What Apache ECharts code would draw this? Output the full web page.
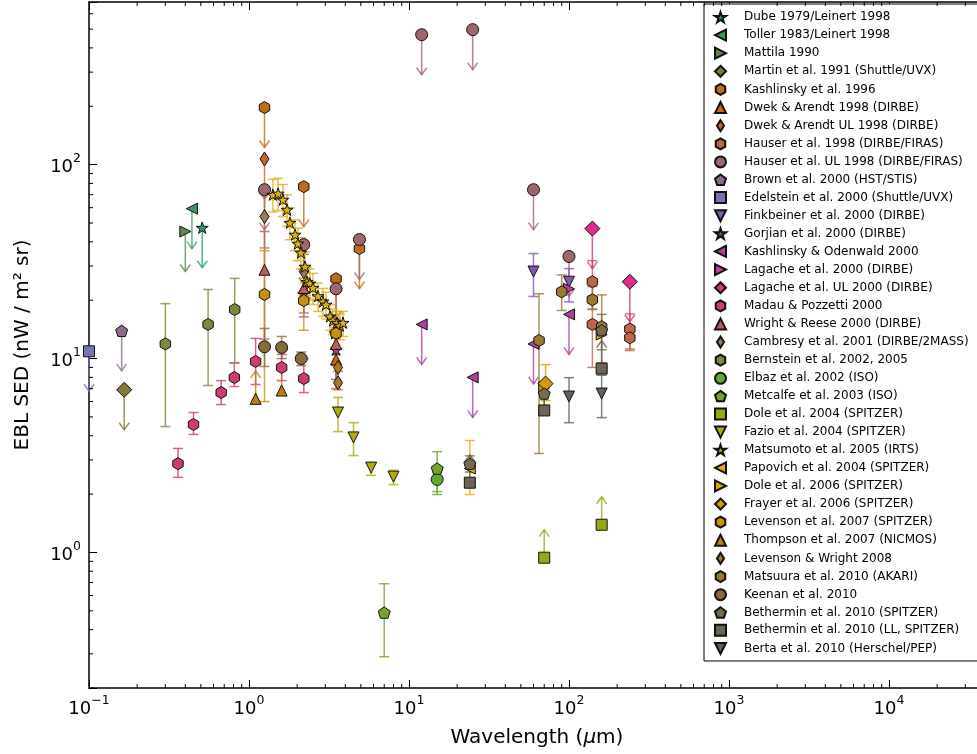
<!DOCTYPE html>
<html><head><meta charset="utf-8">
<script src="https://cdn.jsdelivr.net/npm/echarts@6/dist/echarts.min.js"></script>
<style>html,body{margin:0;padding:0;background:#fff}#c{width:977px;height:754px}</style>
</head><body><div id="c"></div>
<script>
// ---- data: [wavelength (um), nuI_nu (nW m^-2 sr^-1), errLow, errHigh, limit(-1 upper, 1 lower, 0 none)]
const dube = [[0.51, 47.3, null, null, -1]];
const toller = [[0.44, 59.3, null, null, -1]];
const mattila = [[0.40, 45.2, null, null, -1]];
const martin = [[0.166, 6.9, null, null, -1]];
const kashlinsky96 = [[1.25, 197, null, null, -1], [2.2, 77, null, null, -1], [3.5, 25.8, null, null, -1], [4.9, 36.9, null, null, -1]];
const dwekArendt = [[3.5, 9.9, 7.0, 12.8, 0]];
const dwekArendtUL = [[1.25, 107, null, null, -1]];
const hauser = [[140, 24.9, 18, 32, 0], [140, 15.0, 9.0, 21, 0], [240, 14.2, 11.2, 17.0, 0], [240, 12.8, 11.0, 14.6, 0]];
const hauserUL = [[1.25, 74.3, null, null, -1], [2.2, 38.7, null, null, -1], [3.5, 22.9, null, null, -1], [4.9, 41.1, null, null, -1], [12, 468, null, null, -1], [25, 497, null, null, -1], [60, 74.3, null, null, -1], [100, 33.6, null, null, -1]];
const brown = [[0.16, 13.9, null, null, -1]];
const edelstein = [[0.1, 10.9, null, null, -1]];
const finkbeiner = [[60, 28.1, 20.9, 34.8, 0], [100, 24.9, 19.6, 29.1, 0]];
const gorjian = [[2.2, 21.6, 16.4, 28.4, 0], [3.5, 11.1, 7.8, 14.4, 0]];
const kashOdenwald = [[12, 15.0, null, null, -1], [25, 8.0, null, null, -1], [60, 11.9, null, null, -1], [100, 16.9, null, null, -1]];
const lagache = [[100, 22.9, null, null, 0]];
const lagacheUL = [[140, 46.8, null, null, -1], [240, 24.9, null, null, -1]];
const madau = [[0.36, 2.87, 2.44, 3.44, 0], [0.45, 4.57, 4.06, 5.27, 0], [0.67, 6.68, 5.79, 7.7, 0], [0.81, 7.98, 7.17, 9.5, 0], [1.1, 9.66, 7.35, 12.7, 0], [1.6, 8.99, 7.7, 10.5, 0], [2.2, 7.88, 6.68, 10.0, 0]];
const wrightReese = [[1.25, 28.7, 12.6, 45.2, 0], [2.2, 23.1, 17.2, 29.0, 0], [3.5, 11.9, 9.2, 15.6, 0]];
const cambresy = [[1.25, 54, 37.2, 70.8, 0], [2.2, 28.1, 21.1, 34.5, 0]];
const bernstein = [[0.30, 11.9, 4.46, 19.2, 0], [0.555, 15.0, 7.26, 22.7, 0], [0.814, 17.9, 9.5, 25.9, 0]];
const elbaz = [[15, 2.38, 2.06, 2.77, 0]];
const metcalfe = [[7, 0.49, 0.29, 0.69, 0], [15, 2.71, 1.99, 3.31, 0]];
const dole04 = [[70, 0.94, null, null, 1], [160, 1.39, null, null, 1]];
const fazio = [[3.6, 5.27, 4.2, 6.3, 0], [4.5, 3.92, 3.16, 4.67, 0], [5.8, 2.74, 2.5, 2.9, 0], [8.0, 2.46, 2.24, 2.65, 0]];
const matsumoto = [[1.41, 70, 57, 84, 0], [1.52, 71, 58, 85, 0], [1.63, 66, 54, 79, 0], [1.73, 58.6, 48, 70, 0], [1.80, 50.2, 41, 60, 0], [1.94, 43.6, 36, 52, 0], [2.02, 39.2, 32, 47, 0], [2.11, 35.2, 29, 42, 0], [2.24, 29.8, 24.5, 35.5, 0], [2.30, 24.9, 20.5, 29.5, 0], [2.40, 24.4, 20, 29, 0], [2.51, 23.2, 19, 27.5, 0], [2.70, 21.0, 17.5, 24.5, 0], [2.90, 19.7, 16.5, 23, 0], [3.03, 19.0, 16, 22, 0], [3.21, 16.5, 14, 19, 0], [3.35, 15.7, 13.3, 18, 0], [3.45, 13.5, 11.5, 15.5, 0], [3.55, 15.3, 13, 17.5, 0], [3.70, 14.8, 12.5, 17, 0], [3.87, 15.3, 13, 17.5, 0]];
const papovich = [[24, 2.71, 1.99, 3.78, 0]];
const dole06 = [[70, 7.1, null, null, 0], [160, 13.3, null, null, 0]];
const frayer = [[71.4, 7.43, 6.07, 9.3, 0]];
const levenson07 = [[1.25, 21.4, 6.0, 36, 0], [2.2, 19.9, 14, 26, 0], [3.5, 13.5, 10.5, 16.1, 0]];
const thompson = [[1.1, 6.2, null, null, 1], [1.6, 6.84, null, null, 1]];
const levensonWright = [[3.6, 9.0, null, null, 0], [3.6, 7.5, 6.9, 8.6, 0]];
const matsuura = [[65, 12.4, 3.24, 21.6, 0], [90, 22.1, 17.7, 27, 0], [140, 20.1, 17.9, 23.5, 0], [160, 14.6, 9.5, 21.3, 0]];
const keenan = [[1.25, 11.5, 9.1, 14.3, 0], [1.6, 11.4, 10.0, 13.0, 0], [2.12, 10.0, 9.2, 10.8, 0]];
const bethermin = [[24, 2.87, 2.6, 3.15, 0], [70, 6.6, 5.6, 7.6, 0], [160, 14.0, 11.1, 16.9, 0]];
const betherminLL = [[24, 2.29, null, null, 1], [70, 5.4, null, null, 1], [160, 8.88, null, null, 1]];
const berta = [[100, 6.37, 4.67, 7.97, 0], [160, 6.6, 4.96, 8.2, 0]];

const seriesNames = ['Dube 1979/Leinert 1998', 'Toller 1983/Leinert 1998', 'Mattila 1990', 'Martin et al. 1991 (Shuttle/UVX)', 'Kashlinsky et al. 1996', 'Dwek & Arendt 1998 (DIRBE)', 'Dwek & Arendt UL 1998 (DIRBE)', 'Hauser et al. 1998 (DIRBE/FIRAS)', 'Hauser et al. UL 1998 (DIRBE/FIRAS)', 'Brown et al. 2000 (HST/STIS)', 'Edelstein et al. 2000 (Shuttle/UVX)', 'Finkbeiner et al. 2000 (DIRBE)', 'Gorjian et al. 2000 (DIRBE)', 'Kashlinsky & Odenwald 2000', 'Lagache et al. 2000 (DIRBE)', 'Lagache et al. UL 2000 (DIRBE)', 'Madau & Pozzetti 2000', 'Wright & Reese 2000 (DIRBE)', 'Cambresy et al. 2001 (DIRBE/2MASS)', 'Bernstein et al. 2002, 2005', 'Elbaz et al. 2002 (ISO)', 'Metcalfe et al. 2003 (ISO)', 'Dole et al. 2004 (SPITZER)', 'Fazio et al. 2004 (SPITZER)', 'Matsumoto et al. 2005 (IRTS)', 'Papovich et al. 2004 (SPITZER)', 'Dole et al. 2006 (SPITZER)', 'Frayer et al. 2006 (SPITZER)', 'Levenson et al. 2007 (SPITZER)', 'Thompson et al. 2007 (NICMOS)', 'Levenson & Wright 2008', 'Matsuura et al. 2010 (AKARI)', 'Keenan et al. 2010', 'Bethermin et al. 2010 (SPITZER)', 'Bethermin et al. 2010 (LL, SPITZER)', 'Berta et al. 2010 (Herschel/PEP)'];
const seriesData = [dube, toller, mattila, martin, kashlinsky96, dwekArendt, dwekArendtUL, hauser, hauserUL, brown, edelstein, finkbeiner, gorjian, kashOdenwald, lagache, lagacheUL, madau, wrightReese, cambresy, bernstein, elbaz, metcalfe, dole04, fazio, matsumoto, papovich, dole06, frayer, levenson07, thompson, levensonWright, matsuura, keenan, bethermin, betherminLL, berta];

// ---- styles
const seriesColors = ['#22a07f', '#389a5c', '#5c8a4a', '#857a34', '#c06a1a', '#d4600e', '#d0602a', '#bf6648', '#a0666b', '#8a6a8c', '#7474b8', '#8858b0', '#9a4aa0', '#b0409f', '#c83c9c', '#e02c8c', '#d03c70', '#c05a5a', '#a07a50', '#7a8a3a', '#62a82a', '#76a42a', '#98a810', '#b4aa0c', '#dcb010', '#e8a80e', '#dea010', '#d8980c', '#c8900e', '#b8801c', '#a87828', '#9a7830', '#8a6a38', '#7a6a4c', '#6c6454', '#606060'];
const SYM = {
  star: 'path://M100 0 L122.45 69.1 L195.1 69.1 L136.3 111.8 L158.78 180.9 L100 138.2 L41.22 180.9 L63.7 111.8 L4.9 69.1 L77.55 69.1 Z',
  left: 'path://M0 100 L200 0 L200 200 Z',
  right: 'path://M0 0 L200 100 L0 200 Z',
  D: 'diamond',
  hex: 'path://M100 0 L186.6 50 L186.6 150 L100 200 L13.4 150 L13.4 50 Z',
  up: 'triangle',
  thin: 'path://M45 0 L90 70 L45 140 L0 70 Z',
  circle: 'circle',
  pent: 'path://M100 0 L195.1 69.1 L158.8 180.9 L41.2 180.9 L4.9 69.1 Z',
  square: 'rect',
  down: 'path://M0 0 L200 0 L100 200 Z'
};
const symCycle = ['star', 'left', 'right', 'D', 'hex', 'up', 'thin', 'hex', 'circle', 'pent', 'square', 'down'];
const symSize = {star: 12, left: 11, right: 11, D: 15, hex: 12, up: 11, thin: 14, circle: 12, pent: 12, square: 11, down: 11};

function isPow10(v) { const l = Math.log10(v); return Math.abs(l - Math.round(l)) < 1e-6; }
function powLabel(v) {
  if (!isPow10(v)) return '';
  const e = Math.round(Math.log10(v));
  return '{b|10}{s|' + (e < 0 ? '\u2212' + (-e) : e) + '}';
}
const labelRich = {
  b: {fontSize: 18, fontFamily: 'DejaVu Sans', color: '#000', lineHeight: 24, verticalAlign: 'bottom'},
  s: {fontSize: 12.5, fontFamily: 'DejaVu Sans', color: '#000', lineHeight: 13, verticalAlign: 'top'}
};

function makeErr(src, color) {
  return function (params, api) {
    const d = src[params.dataIndex];
    const p = api.coord([d[0], d[1]]);
    const st = {stroke: color, lineWidth: 1.5, opacity: 0.8, fill: null};
    const ch = [];
    if (d[2] != null && d[3] != null) {
      const a = api.coord([d[0], d[2]]), b = api.coord([d[0], d[3]]);
      ch.push({type: 'line', shape: {x1: p[0], y1: a[1], x2: p[0], y2: b[1]}, style: st});
      ch.push({type: 'line', shape: {x1: p[0] - 5, y1: a[1], x2: p[0] + 5, y2: a[1]}, style: st});
      ch.push({type: 'line', shape: {x1: p[0] - 5, y1: b[1], x2: p[0] + 5, y2: b[1]}, style: st});
    }
    if (d[4] === -1) {
      const t = p[1] + 40;
      ch.push({type: 'line', shape: {x1: p[0], y1: p[1], x2: p[0], y2: t}, style: st});
      ch.push({type: 'polyline', shape: {points: [[p[0] - 5, t - 7], [p[0], t], [p[0] + 5, t - 7]]}, style: st});
    } else if (d[4] === 1) {
      const t = p[1] - 28;
      ch.push({type: 'line', shape: {x1: p[0], y1: p[1], x2: p[0], y2: t}, style: st});
      ch.push({type: 'polyline', shape: {points: [[p[0] - 5, t + 7], [p[0], t], [p[0] + 5, t + 7]]}, style: st});
    }
    return {type: 'group', children: ch};
  };
}

// axis decoration: minor tick positions (2..9 x 10^k)
const xMinor = [], yMinor = [];
for (let k = -1; k <= 4; k++) for (let m = 2; m <= 9; m++) { const v = m * Math.pow(10, k); if (v <= 39000) xMinor.push(v); }
for (let k = -1; k <= 2; k++) for (let m = 2; m <= 9; m++) { const v = m * Math.pow(10, k); if (v >= 0.2 && v <= 690) yMinor.push(v); }

const series = [];
seriesData.forEach((src, i) => {
  const sk = symCycle[i % 12];
  series.push({type: 'custom', name: '_err' + i, renderItem: makeErr(src, seriesColors[i]), data: src.map(d => [d[0], d[1]]), encode: {x: 0, y: 1}, silent: true, z: 2});
  series.push({
    type: 'scatter', name: seriesNames[i], data: src.map(d => [d[0], d[1]]),
    symbol: SYM[sk], symbolSize: symSize[sk], symbolKeepAspect: true,
    itemStyle: {color: seriesColors[i], borderColor: '#111', borderWidth: 1, opacity: 1},
    silent: true, z: 2, emphasis: {disabled: true}
  });
});
series.push({type: 'custom', name: '_xminor', silent: true, z: 5, data: xMinor.map(v => [v, 1]), encode: {x: 0, y: 1},
  renderItem: function (params, api) {
    const p = api.coord([api.value(0), 1]); const cs = params.coordSys;
    const st = {stroke: '#000', lineWidth: 1};
    return {type: 'group', children: [
      {type: 'line', shape: {x1: p[0], y1: cs.y + cs.height, x2: p[0], y2: cs.y + cs.height - 4}, style: st},
      {type: 'line', shape: {x1: p[0], y1: cs.y, x2: p[0], y2: cs.y + 4}, style: st}]};
  }});
series.push({type: 'custom', name: '_yminor', silent: true, z: 5, data: yMinor.map(v => [1, v]), encode: {x: 0, y: 1},
  renderItem: function (params, api) {
    const p = api.coord([1, api.value(1)]); const cs = params.coordSys;
    return {type: 'line', shape: {x1: cs.x, y1: p[1], x2: cs.x + 4, y2: p[1]}, style: {stroke: '#000', lineWidth: 1}};
  }});

const X_MAX = 39810.7;
const axisLineStyle = {show: true, onZero: false, lineStyle: {color: '#000', width: 1.5}};
const option = {
  animation: false,
  backgroundColor: '#fff',
  grid: {left: 89, top: 2, width: 896, height: 686, containLabel: false, outerBoundsMode: 'none'},
  xAxis: [
    {type: 'log', logBase: 10, min: 0.1, max: X_MAX, position: 'bottom',
      axisLine: axisLineStyle, axisTick: {inside: true, length: 8, lineStyle: {color: '#000', width: 1}},
      axisLabel: {formatter: powLabel, margin: 6, rich: labelRich},
      splitLine: {show: false},
      name: 'Wavelength ({i|\u03bc}m)', nameLocation: 'middle', nameGap: 40,
      nameTextStyle: {fontSize: 20, fontFamily: 'DejaVu Sans', color: '#000', rich: {i: {fontStyle: 'italic', fontSize: 20, fontFamily: 'DejaVu Sans', color: '#000'}}}},
    {type: 'log', logBase: 10, min: 0.1, max: X_MAX, position: 'top',
      axisLine: axisLineStyle, axisTick: {inside: true, length: 8, lineStyle: {color: '#000', width: 1}},
      axisLabel: {show: false}, splitLine: {show: false}}
  ],
  yAxis: [
    {type: 'log', logBase: 10, min: 0.2, max: 690, position: 'left',
      axisLine: axisLineStyle, axisTick: {inside: true, length: 8, lineStyle: {color: '#000', width: 1}},
      axisLabel: {formatter: powLabel, margin: 8, rich: labelRich},
      splitLine: {show: false},
      name: 'EBL SED (nW / m\u00b2 sr)', nameLocation: 'middle', nameGap: 56, nameRotate: 90,
      nameTextStyle: {fontSize: 20, fontFamily: 'DejaVu Sans', color: '#000'}}
  ],
  legend: {
    show: true, orient: 'vertical', left: 704, top: 4,
    padding: [7, 12, 6, 10], itemWidth: 11, itemHeight: 11, itemGap: 5.12,
    backgroundColor: '#fff', borderColor: '#000', borderWidth: 1, borderRadius: 0,
    selectedMode: false,
    textStyle: {fontSize: 12, lineHeight: 12, fontFamily: 'DejaVu Sans', color: '#000', padding: [0, 0, 0, 13]},
    data: seriesNames.map(n => ({name: n}))
  },
  series: series
};
const chart = echarts.init(document.getElementById('c'), null, {renderer: 'canvas'});
chart.setOption(option);
</script></body></html>
